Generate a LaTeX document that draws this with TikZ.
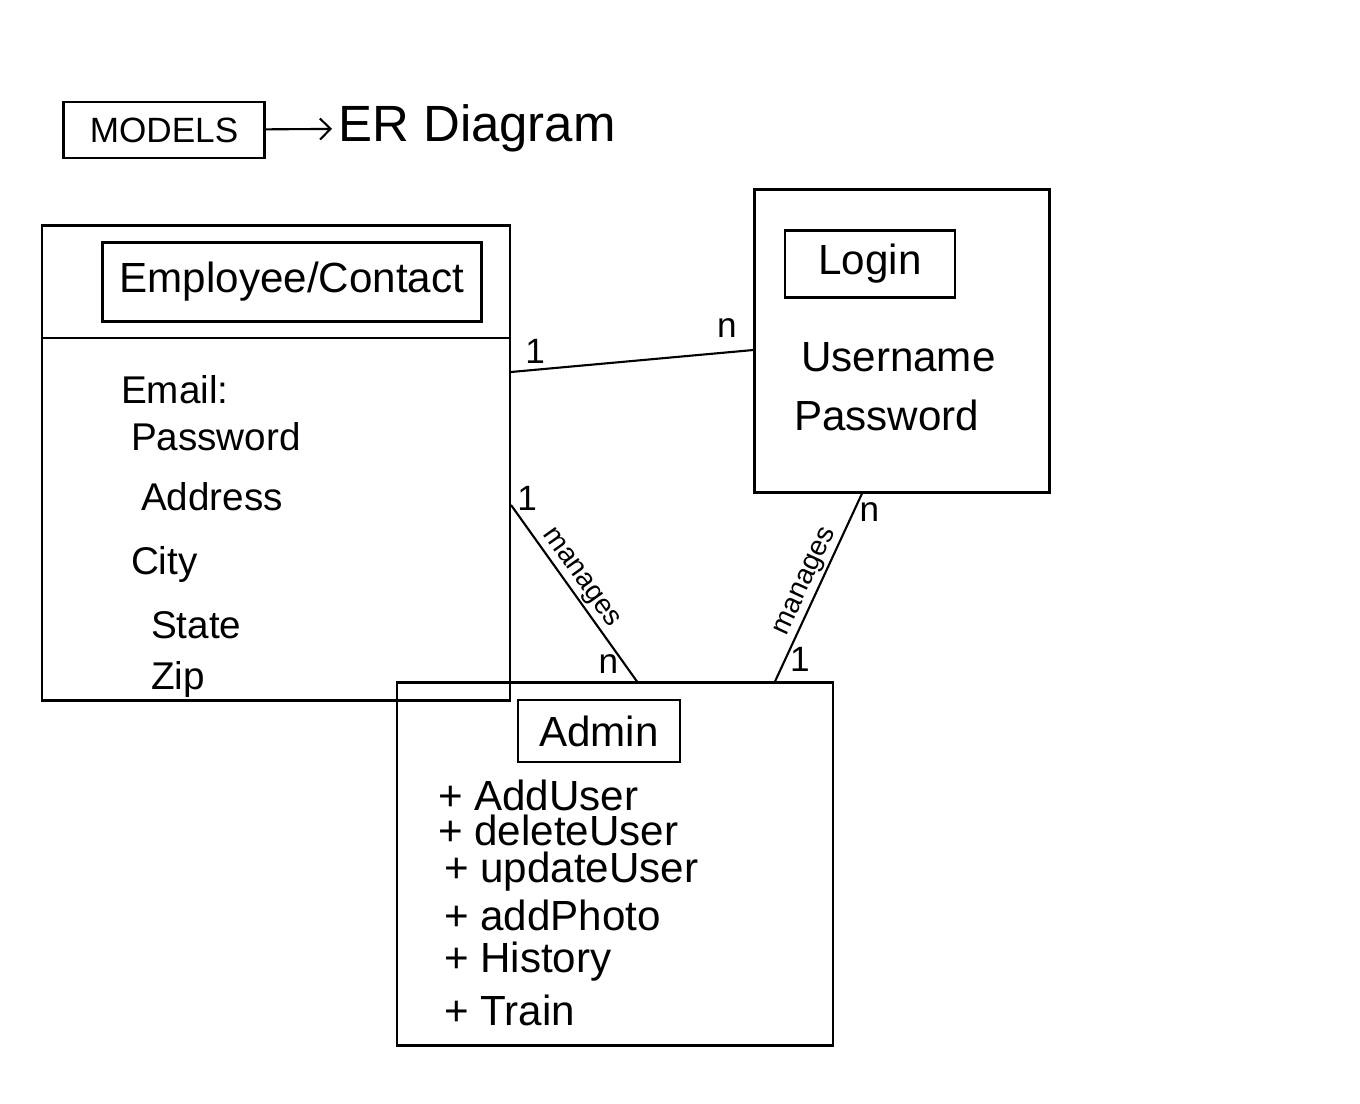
\documentclass[tikz,border=0pt]{standalone}
\usepackage{fontspec}
\setmainfont{Liberation Sans}
\usepackage{tikz}
\usetikzlibrary{arrows.meta}

\begin{document}
\begin{tikzpicture}[x=0.02cm, y=-0.02cm, line width=1.2pt,
    entity/.style={rectangle, draw, inner sep=0pt},
    title/.style={rectangle, draw, inner sep=0pt, font=\fontsize{24}{28}\selectfont},
    attr/.style={anchor=west, inner sep=0pt, font=\fontsize{22}{26}\selectfont},
    method/.style={anchor=west, inner sep=0pt, font=\fontsize{24}{28}\selectfont},
    card/.style={inner sep=3pt, font=\fontsize{20}{24}\selectfont},
    rel/.style={sloped, above, inner sep=1pt, font=\fontsize{16}{19}\selectfont}]
    \useasboundingbox (0,0) rectangle (1360,1104);
    %
    \node[draw, minimum width=4.02cm, minimum height=1.12cm, font=\fontsize{20}{24}\selectfont] (models) at (164,130) {MODELS};
    \node[anchor=west, inner sep=3pt, font=\fontsize{29}{33}\selectfont] (er) at (332,128) {ER Diagram};
    \draw[-{Straight Barb[length=6pt]}] (models) -- (er);
    %
    \node[entity, minimum width=9.36cm, minimum height=9.5cm] (emp) at (276,463) {};
    \node[title, minimum width=7.58cm, minimum height=1.58cm] (empt) at (292,282) {Employee/Contact};
    \draw (emp.west |- 0,338) -- (emp.east |- 0,338);
    \node[attr] (email) at (120,390) {Email:};
    \node[attr] (epass) at (130,437) {Password};
    \node[attr] (addr) at (140,497) {Address};
    \node[attr] (city) at (130,565) {City};
    \node[attr] (state) at (150,625) {State};
    \node[attr] (zip) at (150,680) {Zip};
    %
    \node[entity, minimum width=5.9cm, minimum height=6.06cm] (login) at (902,341) {};
    \node[title, minimum width=3.4cm, minimum height=1.34cm] (logint) at (870,264) {Login};
    \node[attr, font=\fontsize{24}{28}\selectfont] (user) at (800,357) {Username};
    \node[attr, font=\fontsize{24}{28}\selectfont] (lpass) at (793,415) {Password};
    %
    \node[entity, minimum width=8.72cm, minimum height=7.26cm] (admin) at (615,864) {};
    \node[title, minimum width=3.24cm, minimum height=1.24cm] (admint) at (599,731) {Admin};
    \node[method] (m_1) at (437,795) {+ AddUser};
    \node[method] (m_2) at (437,830) {+ deleteUser};
    \node[method] (m_3) at (443,872) {+ updateUser};
    \node[method] (m_4) at (443,915) {+ addPhoto};
    \node[method] (m_5) at (443,962) {+ History};
    \node[method] (m_6) at (443,1010) {+ Train};
    %
    \begin{scope}[every node/.style={card}]
        \draw (emp.east |- 0,372) -- (login.west |- 0,350)
            node[pos=0.1, above] {1} node[pos=0.89, above=5pt] {n};
        \draw (emp.east |- 0,505) -- (admin.north -| 637,0)
            node[pos=0, right, yshift=4pt] {1} node[rel, pos=0.46] {manages} node[pos=0.9, left=0pt] {n};
        \draw (login.south -| 862,0) -- (admin.north -| 775,0)
            node[pos=0.1, right] {n} node[rel, pos=0.5] {manages} node[pos=0.88, right=-1pt] {1};
    \end{scope}
\end{tikzpicture}
\end{document}
